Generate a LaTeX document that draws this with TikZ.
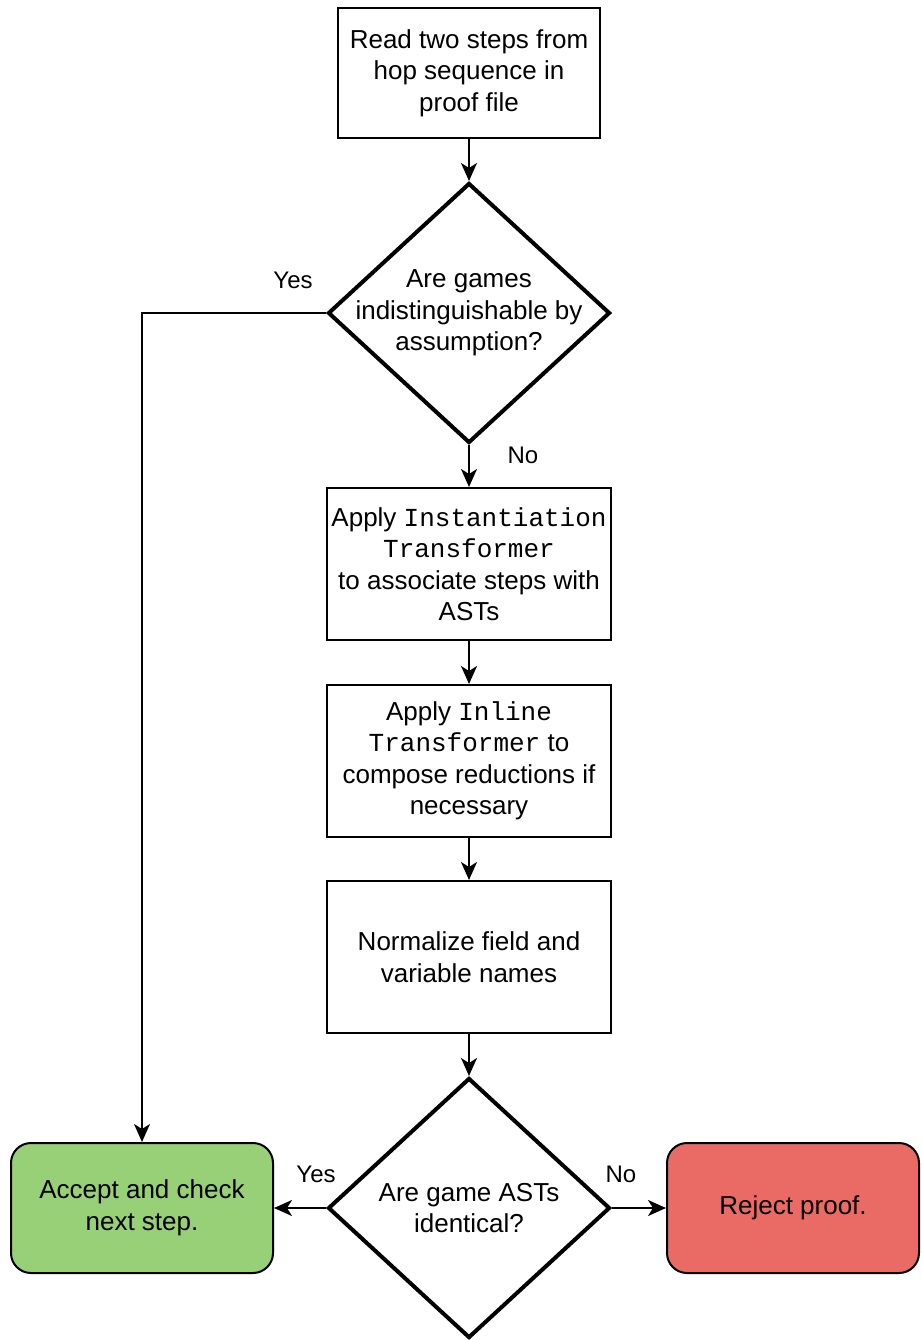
\documentclass[tikz,border=0pt]{standalone}
\usepackage{fontspec}
\setmainfont{Liberation Sans}
\newfontfamily\codefont{Liberation Mono}
\usetikzlibrary{arrows.meta,shapes.geometric}

\definecolor{acceptgreen}{HTML}{97D077}
\definecolor{rejectred}{HTML}{EA6B66}

\begin{document}
\begin{tikzpicture}[x=1pt,y=-1pt,
  every node/.style={font=\fontsize{26}{31.5}\selectfont},
  procbox/.style={draw, line width=2pt, minimum width=284pt, minimum height=152pt,
                  align=center, inner sep=0pt},
  decision/.style={diamond, draw, line width=4pt, inner sep=0pt,
                   minimum width=282pt, minimum height=260pt},
  endbox/.style={draw, line width=2pt, rounded corners=20pt, minimum height=130pt,
                 align=center, inner sep=0pt},
  flow/.style={line width=2pt, -{Stealth[length=18pt,width=16pt,inset=5pt]}},
  edgelabel/.style={font=\fontsize{24}{28}\selectfont}
]
\useasboundingbox (0,0) rectangle (921,1340);

% process steps
\node[procbox, minimum width=262pt, minimum height=130pt] (read) at (469,73)
  {Read two steps from\\hop sequence in\\proof file};

\node[decision] (d1) at (469,313) {};
\node[align=center] (d1text) at (d1) {Are games\\indistinguishable by\\assumption?};

\node[procbox] (inst) at (469,564)
  {Apply {\codefont Instantiation}\\{\codefont Transformer}\\to associate steps with\\ASTs};

\node[procbox] (inline) at (469,761)
  {Apply {\codefont Inline}\\{\codefont Transformer} to\\compose reductions if\\necessary};

\node[procbox] (norm) at (469,957)
  {Normalize field and\\variable names};

\node[decision] (d2) at (469,1208) {};
\node[align=center] (d2text) at (d2) {Are game ASTs\\identical?};

% outcomes
\node[endbox, fill=acceptgreen, minimum width=262pt] (accept) at (142,1208)
  {Accept and check\\next step.};
\node[endbox, fill=rejectred, minimum width=252pt] (reject) at (793,1208)
  {Reject proof.};

% connectors
\draw[flow] (read) -- (d1);
\draw[flow] (d1.west) -| (accept.north);
\draw[flow] (d1) -- (inst);
\draw[flow] (inst) -- (inline);
\draw[flow] (inline) -- (norm);
\draw[flow] (norm) -- (d2);
\draw[flow] (d2.west) -- (accept.east);
\draw[flow] (d2.east) -- (reject.west);

% branch labels
\node[edgelabel] (yes1) at (293,280) {Yes};
\node[edgelabel] (no1) at (523,455) {No};
\node[edgelabel] (yes2) at (316,1174) {Yes};
\node[edgelabel] (no2) at (621,1174) {No};
\end{tikzpicture}
\end{document}
